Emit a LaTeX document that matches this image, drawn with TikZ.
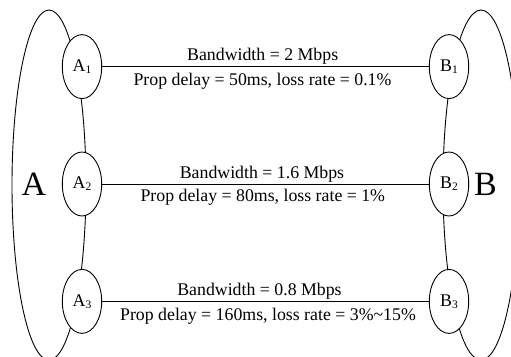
\documentclass[tikz,border=0pt]{standalone}
\usepackage{fontspec}
\setmainfont{Liberation Serif}
\usetikzlibrary{shapes.geometric}
\newcommand{\mysubx}[1]{\raisebox{-2pt}{\fontsize{11.5}{12}\selectfont #1}}
\begin{document}
\begin{tikzpicture}[x=1pt,y=-1pt,
  every node/.style={font=\fontsize{17.8}{20}\selectfont},
  host/.style={ellipse, draw, fill=white, minimum width=39.4pt, minimum height=64pt, inner sep=0pt, line width=0.9pt},
  link/.style={line width=0.9pt},
  big/.style={line width=0.9pt},
  lbl/.style={anchor=base, inner sep=0pt},
  side/.style={anchor=base, inner sep=0pt, font=\fontsize{34}{36}\selectfont}
]
\useasboundingbox (0,0) rectangle (511,356);
\begin{scope}
  \clip (0,0) rectangle (511,356);
  \draw[big] (49,185) ellipse [x radius=37pt, y radius=175pt];
  \draw[big] (481,185) ellipse [x radius=38pt, y radius=175pt];
\end{scope}
\node[host] (A1) at (82,66.6) {A\mysubx{1}};
\node[host] (A2) at (82,184) {A\mysubx{2}};
\node[host] (A3) at (82,301.4) {A\mysubx{3}};
\node[host] (B1) at (449,66.6) {B\mysubx{1}};
\node[host] (B2) at (449,184) {B\mysubx{2}};
\node[host] (B3) at (449,301.4) {B\mysubx{3}};
\node[side] (A) at (34,195) {A};
\node[side] (B) at (485.5,195) {B};
\draw[link] (A1) -- (B1);
\draw[link] (A2) -- (B2);
\draw[link] (A3) -- (B3);
\node[lbl] (bw1) at (262.7,60) {Bandwidth = 2 Mbps};
\node[lbl] (pd1) at (262.5,85) {Prop delay = 50ms, loss rate = 0.1\%};
\node[lbl] (bw2) at (262,178.3) {Bandwidth = 1.6 Mbps};
\node[lbl] (pd2) at (262.8,201.7) {Prop delay = 80ms, loss rate = 1\%};
\node[lbl] (bw3) at (259.5,295) {Bandwidth = 0.8 Mbps};
\node[lbl] (pd3) at (268,320.7) {Prop delay = 160ms, loss rate = 3\%\textasciitilde15\%};
\end{tikzpicture}
\end{document}
